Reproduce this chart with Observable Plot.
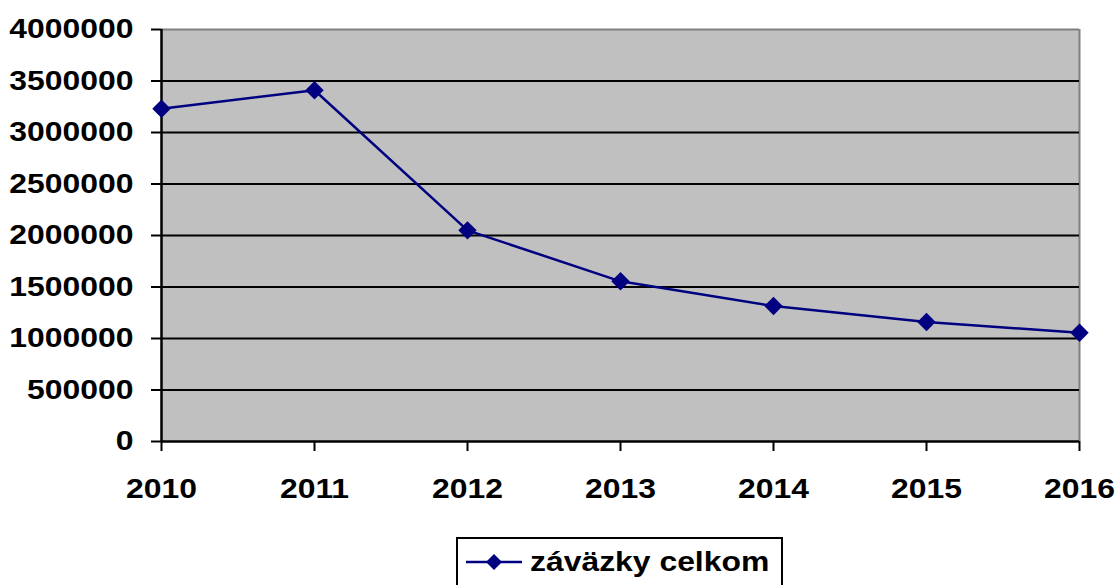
<!DOCTYPE html>
<html>
<head>
<meta charset="utf-8">
<script src="https://cdn.jsdelivr.net/npm/d3@7"></script>
<script src="https://cdn.jsdelivr.net/npm/@observablehq/plot@0.6"></script>
<style>
  html, body { margin: 0; padding: 0; background: #fff; overflow: hidden; }
  #wrap { position: relative; width: 1119px; height: 585px; }
  svg text { font-family: "Liberation Sans", Arial, sans-serif; font-weight: bold; font-size: 27.5px; fill: #000; }
  #legend { position: absolute; left: 456px; top: 537px; width: 323px; height: 50px; border: 2px solid #000; background: #fff; }
  #legend svg { position: absolute; left: 0; top: 0; }
</style>
</head>
<body>
<div id="wrap"></div>
<script>
const years = ["2010", "2011", "2012", "2013", "2014", "2015", "2016"];
const values = [3230000, 3410000, 2050000, 1555000, 1315000, 1160000, 1055000];
const yTicks = [0, 500000, 1000000, 1500000, 2000000, 2500000, 3000000, 3500000, 4000000];
const gridTicks = [500000, 1000000, 1500000, 2000000, 2500000, 3000000, 3500000];
const seriesName = "záväzky celkom";

const data = years.map((y, i) => ({year: y, value: values[i]}));
const navy = "#000080";

const chart = Plot.plot({
  width: 1119,
  height: 535,
  marginLeft: 161,
  marginRight: 40,
  marginTop: 29,
  marginBottom: 94,
  style: {fontFamily: "Liberation Sans, Arial, sans-serif", fontSize: "27.5px", fontWeight: "bold", background: "#fff"},
  x: {type: "point", domain: years, padding: 0},
  y: {domain: [0, 4000000]},
  marks: [
    Plot.frame({fill: "#c0c0c0", stroke: "none"}),
    Plot.ruleY([4000000], {stroke: "#808080", strokeWidth: 2}),
    Plot.ruleX(["2016"], {stroke: "#808080", strokeWidth: 2}),
    Plot.ruleY(gridTicks, {stroke: "#000", strokeWidth: 2}),
    Plot.axisY({ticks: yTicks, tickSize: 10, tickPadding: 18, tickFormat: d => String(d), stroke: "#000", strokeWidth: 2, label: null}),
    Plot.axisX({tickSize: 10, tickPadding: 27, stroke: "#000", strokeWidth: 2, label: null}),
    Plot.ruleX(["2010"], {stroke: "#000", strokeWidth: 2.5}),
    Plot.ruleY([0], {stroke: "#000", strokeWidth: 2.5}),
    Plot.line(data, {x: "year", y: "value", stroke: navy, strokeWidth: 2.5}),
    Plot.dot(data, {x: "year", y: "value", symbol: "diamond2", r: 8.3, fill: navy, stroke: "none"})
  ]
});

// Horizontally stretched bold tick labels, as in the reference
chart.querySelectorAll('g[aria-label="y-axis tick label"] text, g[aria-label="x-axis tick label"] text').forEach(t => {
  const tr = t.getAttribute("transform") || "";
  t.setAttribute("transform", tr + " scale(1.16,1)");
});

const wrap = document.getElementById("wrap");
wrap.appendChild(chart);

// Legend below the chart
const legend = document.createElement("div");
legend.id = "legend";
const ns = "http://www.w3.org/2000/svg";
const ls = document.createElementNS(ns, "svg");
ls.setAttribute("width", 323);
ls.setAttribute("height", 50);
const ln = document.createElementNS(ns, "line");
ln.setAttribute("x1", 8); ln.setAttribute("x2", 64);
ln.setAttribute("y1", 23); ln.setAttribute("y2", 23);
ln.setAttribute("stroke", navy); ln.setAttribute("stroke-width", 2.5);
ls.appendChild(ln);
const dm = document.createElementNS(ns, "path");
dm.setAttribute("d", "M36,15L44,23L36,31L28,23Z");
dm.setAttribute("fill", navy);
ls.appendChild(dm);
const tx = document.createElementNS(ns, "text");
tx.setAttribute("transform", "translate(72,32) scale(1.16,1)");
tx.textContent = seriesName;
ls.appendChild(tx);
legend.appendChild(ls);
wrap.appendChild(legend);
</script>
</body>
</html>
